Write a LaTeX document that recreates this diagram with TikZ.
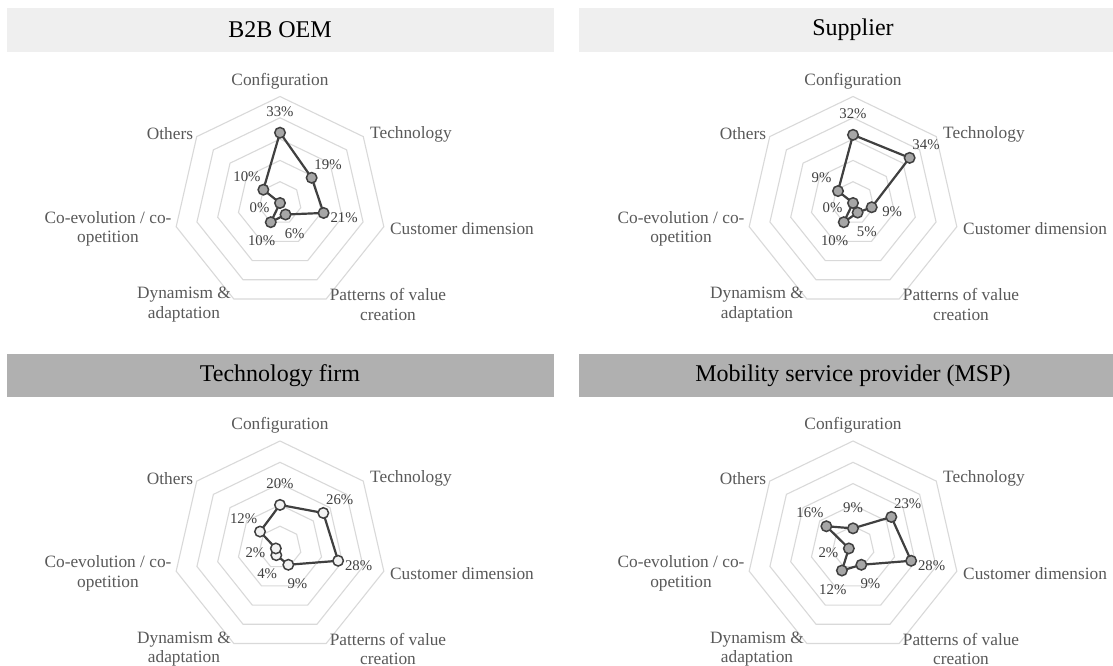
\documentclass[tikz,border=0pt]{standalone}
\usepackage{fontspec}
\setmainfont{Liberation Serif}
\definecolor{ringc}{HTML}{D9D9D9}
\definecolor{linec}{HTML}{404040}
\definecolor{axtext}{HTML}{595959}
\definecolor{pcttext}{HTML}{404040}
\definecolor{bandlight}{HTML}{EFEFEF}
\definecolor{banddark}{HTML}{B0B0B0}
\definecolor{mkgray}{HTML}{A6A6A6}
\definecolor{mkwhite}{HTML}{F2F2F2}
\tikzset{
  ring/.style={draw=ringc, line width=1.1pt, line join=miter},
  series/.style={draw=linec, line width=2.2pt, line join=round},
  marker/.style={circle, draw=linec, line width=1.5pt, inner sep=0pt, minimum size=10.5pt},
  pct/.style={text=pcttext, font=\fontsize{14.8}{16}\selectfont, inner sep=0pt},
  axlabel/.style={text=axtext, font=\fontsize{17.3}{19.5}\selectfont, inner sep=0pt, align=center},
  charttitle/.style={font=\fontsize{24}{28}\selectfont, text=black, inner sep=0pt},
}
\newcommand\radarchart[5]{%
  \begin{scope}[shift={(#2,-#3)}]
    \foreach \r in {1,...,5}{%
      \draw[ring] ({90}:{\r*21.3}) -- ({90-360/7}:{\r*21.3}) -- ({90-2*360/7}:{\r*21.3})
        -- ({90-3*360/7}:{\r*21.3}) -- ({90-4*360/7}:{\r*21.3}) -- ({90-5*360/7}:{\r*21.3})
        -- ({90-6*360/7}:{\r*21.3}) -- cycle;}
    \foreach \v [count=\k from 0] in {#5}{%
      \coordinate (#1p\k) at ({90-\k*360/7}:{\v*2.13});}
    \draw[series] (#1p0) -- (#1p1) -- (#1p2) -- (#1p3) -- (#1p4) -- (#1p5) -- (#1p6) -- cycle;
    \foreach \v [count=\k from 0] in {#5}{%
      \node[marker, fill=#4] (#1m\k) at (#1p\k) {};
      \node[pct] (#1l\k) at ({90-\k*360/7}:{\v*2.13+21}) {\v\%};}
    \node[axlabel] (#1a0) at (0,122) {Configuration};
    \node[axlabel, anchor=west] (#1a1) at (90,69) {Technology};
    \node[axlabel, anchor=west] (#1a2) at (110,-26) {Customer dimension};
    \node[axlabel] (#1a3) at (108,-101.5) {Patterns of value\\creation};
    \node[axlabel] (#1a4) at (-96,-101.5) {Dynamism \&\\adaptation};
    \node[axlabel] (#1a5) at (-172,-26) {Co-evolution / co-\\opetition};
    \node[axlabel] (#1a6) at (-110,69) {Others};
  \end{scope}}
\begin{document}
\begin{tikzpicture}[x=1pt,y=1pt]
  \useasboundingbox[fill=white] (0,0) rectangle (1113,-666);
  % title bands
  \fill[bandlight] (7,-8) rectangle (554,-52);
  \fill[bandlight] (579,-8) rectangle (1113,-52);
  \fill[banddark] (7,-354) rectangle (554,-397);
  \fill[banddark] (579,-354) rectangle (1113,-397);
  \node[charttitle] (t1) at (280,-30) {B2B OEM};
  \node[charttitle] (t2) at (853,-30) {Supplier};
  \node[charttitle] (t3) at (280,-375.5) {Technology firm};
  \node[charttitle] (t4) at (853,-375.5) {Mobility service provider (MSP)};
  % charts
  \radarchart{b}{280}{203}{mkgray}{33,19,21,6,10,0,10}
  \radarchart{s}{853}{203}{mkgray}{32,34,9,5,10,0,9}
  \radarchart{t}{280}{547.5}{mkwhite}{20,26,28,9,4,2,12}
  \radarchart{m}{853}{547.5}{mkgray}{9,23,28,9,12,2,16}
\end{tikzpicture}
\end{document}
